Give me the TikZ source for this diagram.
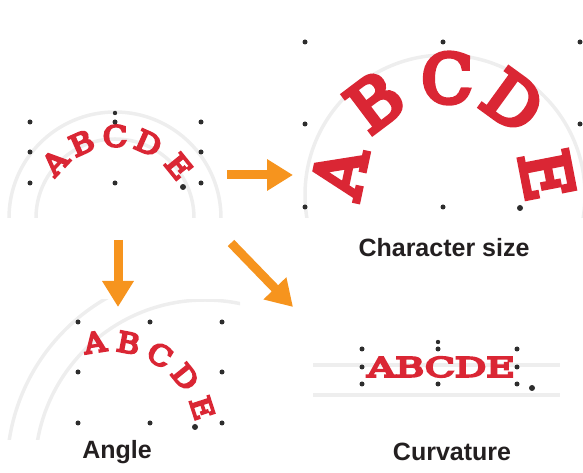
\documentclass[tikz,border=0pt]{standalone}
\usepackage{fontspec}
\setsansfont{Liberation Sans}
\newfontfamily\slabfont{DejaVu Serif}[FakeBold = 7]
\usepackage{tikz}
\usetikzlibrary{arrows.meta}
\usetikzlibrary{calc}
\definecolor{letterred}{RGB}{218,38,52}
\definecolor{arroworange}{RGB}{246,148,30}
\definecolor{handlegray}{RGB}{45,45,45}
\definecolor{guidegray}{RGB}{238,238,238}
\definecolor{labelblack}{RGB}{35,31,32}

\begin{document}
\begin{tikzpicture}[x = 1pt, y = 1pt,
        letter/.style = {text = letterred, inner sep = 0pt, font = \fontsize{#1}{#1}\selectfont\slabfont},
        handle/.style = {fill = handlegray},
        guide/.style = {draw = guidegray, line width = 3.5pt},
        bigarrow/.style = {draw = arroworange, line width = 9pt, -{Triangle[length = 26pt, width = 30pt]}},
        caption/.style = {text = labelblack, inner sep = 0pt, font = \fontsize{25}{25}\selectfont\sffamily\bfseries}]
        \useasboundingbox (0,0) rectangle (583,473);

        % original text
        \begin{scope}
        \coordinate (c1) at (115,255);
        \begin{scope}
        \clip (0,255) rectangle (230,378);
        \draw[guide] (c1) circle (106pt);
        \draw[guide] (c1) circle (79pt);
        \end{scope}
        \foreach \ch/\ang in {A/137,B/114,C/90,D/66,E/39}
            \node[letter = 29, rotate = \ang-90, xscale = 1.1] (o\ch) at ($(c1)+(\ang:82)$) {\ch};
        \foreach \hx/\hy in {30/351,115/351,201/351,30/321,201/321,30/290,115/290,201/290}
            \fill[handle] (\hx,\hy) circle (2.5pt);
        \fill[handle] (115,360) circle (2.2pt);
        \fill[handle] (183,286) circle (3pt);
        \end{scope}

        % character size
        \begin{scope}
        \coordinate (c2) at (445,278);
        \begin{scope}
        \clip (295,255) rectangle (583,448);
        \draw[guide] (c2) circle (140pt);
        \end{scope}
        \foreach \ch/\ang/\rad in {A/168/108,B/127/117,C/89/117,D/54/116,E/11/104}
            \node[letter = 67, rotate = \ang-90] (s\ch) at ($(c2)+(\ang:\rad)$) {\ch};
        \foreach \hx/\hy in {305/431,443/431,580/431,305/349,580/349,305/266,443/266}
            \fill[handle] (\hx,\hy) circle (2.5pt);
        \fill[handle] (520,265) circle (3pt);
        \end{scope}

        % angle
        \begin{scope}
        \coordinate (c3) at (205,3);
        \begin{scope}
        \clip (0,33) rectangle (240,173);
        \draw[guide] (c3) circle (198pt);
        \draw[guide] (c3) circle (170pt);
        \end{scope}
        \coordinate (t3) at (110,35);
        \foreach \ch/\ang in {A/99,B/79,C/59,D/39,E/18}
            \node[letter = 28, rotate = \ang-90, xscale = 1.1] (a\ch) at ($(t3)+(\ang:97)$) {\ch};
        \foreach \hx/\hy in {78/151,150/151,222/151,78/101,222/101,78/50,150/50,222/50}
            \fill[handle] (\hx,\hy) circle (2.5pt);
        \fill[handle] (195,46) circle (3pt);
        \end{scope}

        % curvature
        \begin{scope}
        \coordinate (g4w) at (313,108);
        \coordinate (g4e) at (560,108);
        \coordinate (h4w) at (313,78);
        \coordinate (h4e) at (560,78);
        \draw[guide] (g4w) -- (g4e);
        \draw[guide] (h4w) -- (h4e);
        \node[letter = 27, xscale = 1.45] (flat) at (441,106) {ABCDE};
        \foreach \hx/\hy in {362/124,438/124,517/124,362/106,517/106,362/89,438/89,517/89}
            \fill[handle] (\hx,\hy) circle (2.5pt);
        \fill[handle] (438,131) circle (2.2pt);
        \fill[handle] (532,85) circle (3pt);
        \end{scope}

        % arrows
        \coordinate (a1s) at (227,298);
        \coordinate (a1e) at (293,298);
        \coordinate (a2s) at (118,233);
        \coordinate (a2e) at (118,166);
        \coordinate (a3s) at (231,230);
        \coordinate (a3e) at (293,166);
        \draw[bigarrow] (a1s) -- (a1e);
        \draw[bigarrow] (a2s) -- (a2e);
        \draw[bigarrow] (a3s) -- (a3e);

        % captions
        \node[caption] (lsize) at (444,225) {Character size};
        \node[caption] (langle) at (117,21) {Angle};
        \node[caption] (lcurve) at (452,21) {Curvature};
    \end{tikzpicture}
\end{document}
